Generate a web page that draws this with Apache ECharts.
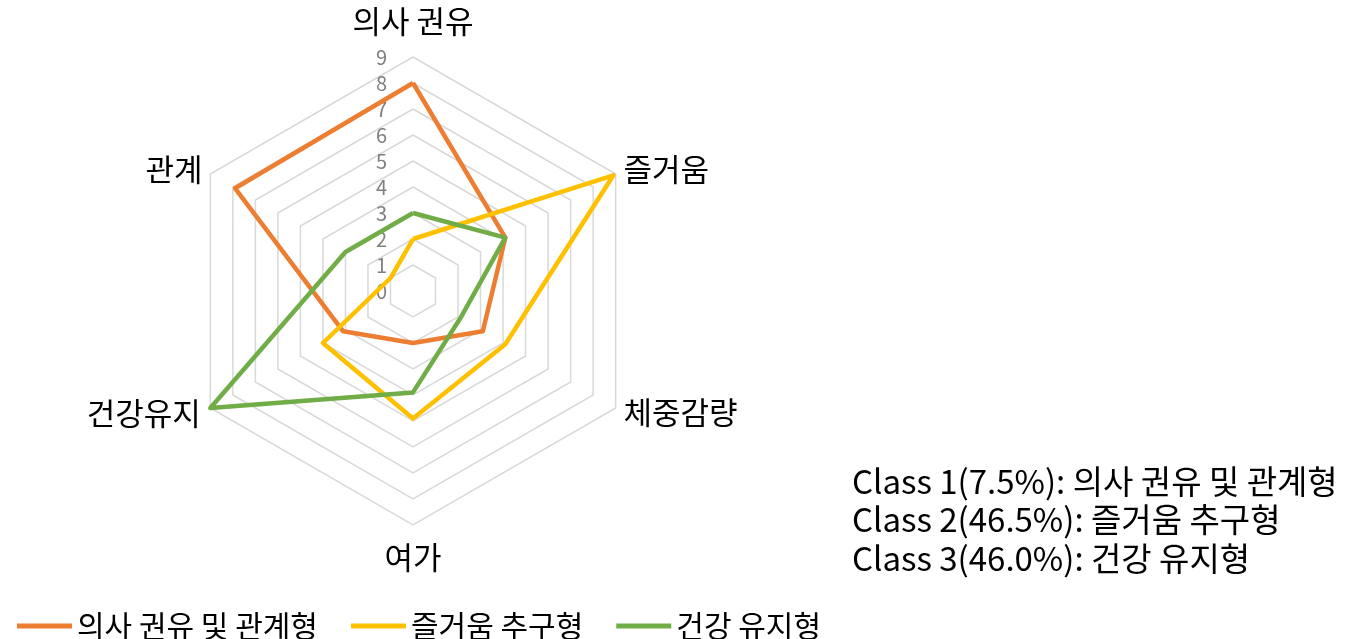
<!DOCTYPE html>
<html>
<head>
<meta charset="utf-8">
<script src="https://cdn.jsdelivr.net/npm/echarts@6/dist/echarts.min.js"></script>
<style>
  html, body { margin: 0; padding: 0; background: #fff; }
  #chart { width: 1353px; height: 639px; }
</style>
</head>
<body>
<div id="chart"></div>
<script>
var myChart = echarts.init(document.getElementById("chart"));

// 축 (반시계 방향 순서: 위, 왼쪽 위, 왼쪽 아래, 아래, 오른쪽 아래, 오른쪽 위)
var axisNames = ["의사 권유", "관계", "건강유지", "여가", "체중감량", "즐거움"];
var seriesNames = ["의사 권유 및 관계형", "즐거움 추구형", "건강 유지형"];
var class1 = [8.0, 7.9, 3.1, 2.0, 3.1, 4.1];
var class2 = [2.0, 1.0, 4.0, 4.9, 4.1, 8.9];
var class3 = [3.0, 3.0, 9.0, 3.9, 2.1, 4.1];
var colors = ["#ED7D31", "#FFC000", "#70AD47"];
var noteLines = [
  "Class 1(7.5%): 의사 권유 및 관계형",
  "Class 2(46.5%): 즐거움 추구형",
  "Class 3(46.0%): 건강 유지형",
];

var font = "'Noto Sans CJK KR', 'Noto Sans', sans-serif";
var nameGaps = [20, 9, 11, 17, 9, 9];

var indicator = axisNames.map(function (n, i) {
  var ind = { name: n, min: 0, max: 9, nameGap: nameGaps[i] };
  if (i === 0) {
    ind.axisLabel = {
      show: true,
      color: "#7f7f7f",
      fontSize: 20,
      fontFamily: font,
      margin: 26,
    };
  }
  return ind;
});

var allValues = [class1, class2, class3];

var option = {
  animation: false,
  color: colors,
  legend: {
    left: 12,
    top: 606,
    itemWidth: 55,
    itemHeight: 5,
    itemGap: 33,
    icon: "rect",
    textStyle: { fontSize: 30, color: "#000", fontFamily: font },
    data: seriesNames,
  },
  radar: {
    center: [413, 291],
    radius: 234,
    shape: "polygon",
    splitNumber: 9,
    startAngle: 90,
    axisName: { color: "#000", fontSize: 31, fontFamily: font },
    axisLine: { show: false },
    axisTick: { show: false },
    axisLabel: { show: false },
    splitLine: { lineStyle: { color: "#d9d9d9", width: 1.5 } },
    splitArea: { show: false },
    indicator: indicator,
  },
  graphic: noteLines.map(function (t, i) {
    return {
      type: "text",
      x: 852,
      y: 481 + i * 38.5,
      style: {
        text: t,
        fontSize: 33,
        fill: "#000",
        fontFamily: font,
        verticalAlign: "middle",
      },
    };
  }),
  series: [
    {
      type: "radar",
      symbol: "none",
      lineStyle: { width: 4.5 },
      data: seriesNames.map(function (n, i) {
        return {
          name: n,
          value: allValues[i],
          lineStyle: { color: colors[i], width: 4.5 },
        };
      }),
    },
  ],
};
myChart.setOption(option);
</script>
</body>
</html>
